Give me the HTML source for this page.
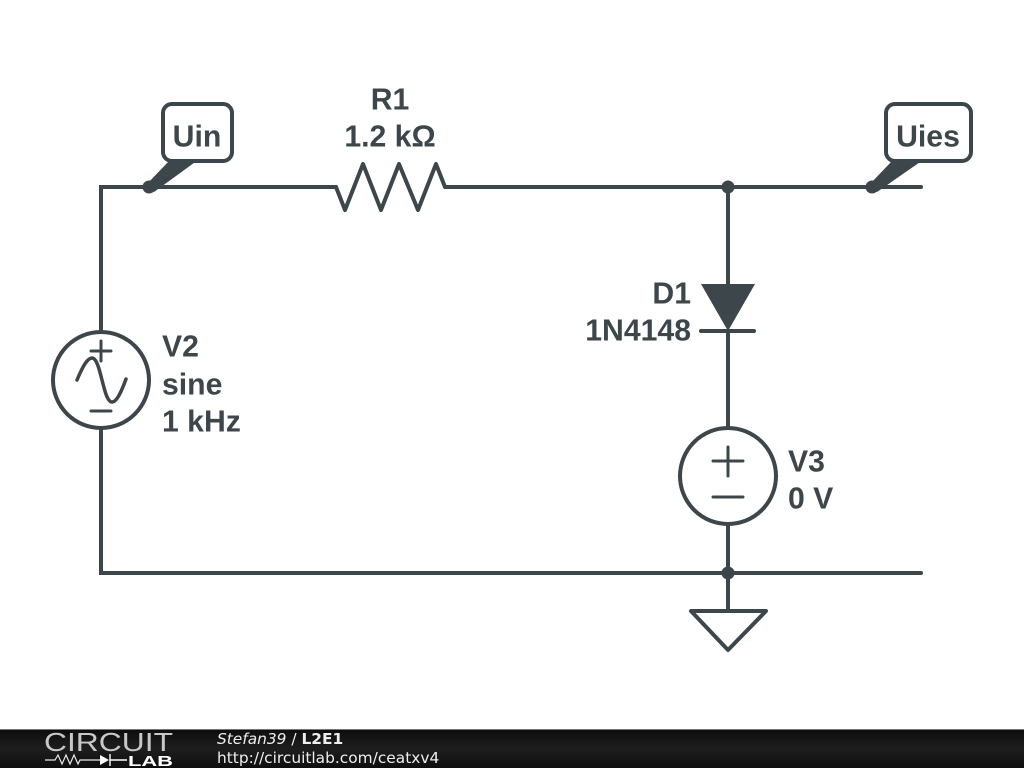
<!DOCTYPE html>
<html>
<head>
<meta charset="utf-8">
<style>
html,body{margin:0;padding:0;background:#fff;width:1024px;height:768px;overflow:hidden}
svg{display:block}
.l{font-family:"Liberation Sans",sans-serif;font-weight:700;font-size:30.2px;fill:#3d464b}
.f{font-family:"DejaVu Sans",sans-serif;font-size:15.4px;fill:#eee}
</style>
</head>
<body>
<svg width="1024" height="768" viewBox="0 0 1024 768" xmlns="http://www.w3.org/2000/svg">
<defs>
<linearGradient id="g" x1="0" y1="0" x2="0" y2="1">
<stop offset="0" stop-color="#0c0c0c"/>
<stop offset="0.5" stop-color="#1e1e1e"/>
<stop offset="1" stop-color="#0e0e0e"/>
</linearGradient>
</defs>
<g fill="none" stroke="#3d464b" stroke-width="4" stroke-linecap="round" stroke-linejoin="round">
<path stroke-linejoin="miter" d="M101 332V187H336"/>
<path d="M336 187L345 210L363 164L381 210L399 164L418 210L436 164L445 187H921"/>
<path d="M728 187V284M728 332V428M728 524V573"/>
<path stroke-linejoin="miter" d="M101 428V573H921"/>
<path d="M728 573V611"/>
<path d="M691 611H766L728 650Z"/>
<path d="M701 331H754"/>
<circle cx="101" cy="380" r="48"/>
<circle cx="728" cy="476" r="48"/>
<path stroke-width="3" d="M101 341V361M91 351H111M91 411H111"/>
<path stroke-width="3.5" d="M77 380C82 368 87 358 92 358C101 358 103 402 112 402C117 402 122 390 126 379"/>
<path stroke-width="3" d="M728 447V476M713 461H743M713 497H743"/>
<rect x="163" y="104" width="69" height="57" rx="9" ry="9" fill="#fff"/>
<rect x="886" y="104" width="85" height="57" rx="9" ry="9" fill="#fff"/>
</g>
<g fill="#3d464b" stroke="none">
<path d="M701 284H755L728 331Z"/>
<circle cx="149" cy="187" r="6.5"/>
<circle cx="728" cy="187" r="6.5"/>
<circle cx="872" cy="187" r="6.5"/>
<circle cx="728" cy="573" r="6.5"/>
<path d="M170 160H198L154 192L146 185Z"/>
<path d="M893 160H923L877 192L869 185Z"/>
</g>
<text class="l" x="197" y="146.5" text-anchor="middle">Uin</text>
<text class="l" x="928" y="146.5" text-anchor="middle">Uies</text>
<text class="l" x="390" y="109.5" text-anchor="middle">R1</text>
<text class="l" x="390" y="146.5" text-anchor="middle">1.2 kΩ</text>
<text class="l" x="162" y="356.5">V2</text>
<text class="l" x="162" y="394.5">sine</text>
<text class="l" x="162" y="431.5">1 kHz</text>
<text class="l" x="691" y="303.5" text-anchor="end">D1</text>
<text class="l" x="691" y="340.5" text-anchor="end">1N4148</text>
<text class="l" x="788" y="471.5">V3</text>
<text class="l" x="788" y="508.5">0 V</text>
<rect x="0" y="729" width="1024" height="39" fill="url(#g)"/>
<rect x="0" y="729" width="1024" height="1" fill="#777"/>
<text x="44" y="751" font-family="'Liberation Sans',sans-serif" font-size="26" fill="#c8c8c8" textLength="129" lengthAdjust="spacingAndGlyphs">CIRCUIT</text>
<path d="M45 760H55L58 755L62 764L66 755L70 764L74 755L78 764L80 760H100" fill="none" stroke="#e8e8e8" stroke-width="1.2"/>
<path d="M100 755V765L109 760Z" fill="#fff"/>
<path d="M110 754V766M110 760H127" stroke="#fff" stroke-width="1.4" fill="none"/>
<text x="128" y="766" font-family="'Liberation Sans',sans-serif" font-weight="700" font-size="15" fill="#fff" textLength="45" lengthAdjust="spacingAndGlyphs">LAB</text>
<text class="f" x="217" y="744"><tspan font-style="oblique">Stefan39</tspan> / <tspan font-weight="700">L2E1</tspan></text>
<text class="f" x="217" y="763">http://circuitlab.com/ceatxv4</text>
</svg>
</body>
</html>
